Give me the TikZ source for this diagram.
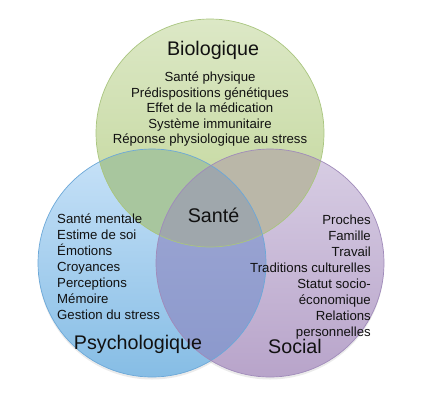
\documentclass[tikz,border=0pt]{standalone}
\usepackage{fontspec}
\setmainfont{Liberation Sans}
\definecolor{gtop}{HTML}{DCE8C6}
\definecolor{gbot}{HTML}{C0D597}
\definecolor{btop}{HTML}{C8E2F8}
\definecolor{bbot}{HTML}{86BDE5}
\definecolor{ptop}{HTML}{D8CEE4}
\definecolor{pbot}{HTML}{B8A4CA}
\definecolor{gb}{HTML}{A8C69E}
\definecolor{gp}{HTML}{BAB7A8}
\definecolor{bptop}{HTML}{A0A8D4}
\definecolor{bpbot}{HTML}{8A98CC}
\definecolor{gbp}{HTML}{9FA7AC}
\definecolor{gline}{HTML}{A9C57F}
\definecolor{bline}{HTML}{6CA8D8}
\definecolor{pline}{HTML}{A08BBA}
\definecolor{txt}{HTML}{111111}
\tikzset{
  title/.style={inner sep=0pt, text=txt, font=\fontsize{19.7}{22}\selectfont},
  items/.style={inner sep=0pt, text=txt, font=\fontsize{13.2}{16}\selectfont},
  rim/.style={line width=0.7pt}
}
\begin{document}
\begin{tikzpicture}[x=1pt,y=-1pt]
\useasboundingbox (0,0) rectangle (435,402);
\def\R{114}
\coordinate (G) at (210,133);
\coordinate (B) at (152,263);
\coordinate (P) at (270,263);
% shadows
\fill[black,opacity=0.08] ([yshift=-2.5pt]B) circle (\R);
\fill[black,opacity=0.08] ([yshift=-2.5pt]P) circle (\R);
% base circles
\shade[top color=btop,bottom color=bbot] (B) circle (\R);
\shade[top color=ptop,bottom color=pbot] (P) circle (\R);
\shade[top color=gtop,bottom color=gbot] (G) circle (\R);
% overlaps
\begin{scope}
  \clip (G) circle (\R);
  \fill[gb] (B) circle (\R);
  \fill[gp] (P) circle (\R);
\end{scope}
\begin{scope}
  \clip (B) circle (\R);
  \shade[top color=bptop,bottom color=bpbot] (P) circle (\R);
  \clip (G) circle (\R);
  \fill[gbp] (P) circle (\R);
\end{scope}
% rims
\draw[rim,gline] (G) circle (\R);
\draw[rim,bline] (B) circle (\R);
\draw[rim,pline] (P) circle (\R);
% texts
\node[title] (tbio) at (213,50) {Biologique};
\node[items,align=center,font=\fontsize{13.2}{15.5}\selectfont] (ibio) at (210,109.5)
  {Santé physique\\Prédispositions génétiques\\Effet de la médication\\Système immunitaire\\Réponse physiologique au stress};
\node[title] (tsante) at (213.5,215) {Santé};
\node[items,align=left,anchor=west] (ipsy) at (57,266.5)
  {Santé mentale\\Estime de soi\\Émotions\\Croyances\\Perceptions\\Mémoire\\Gestion du stress};
\node[title] (tpsy) at (138,344) {Psychologique};
\node[items,align=right,anchor=east] (isoc) at (371,277.5)
  {Proches\\Famille\\Travail\\Traditions culturelles\\Statut socio-\\économique\\Relations\\personnelles};
\node[title] (tsoc) at (295,346) {Social};
\end{tikzpicture}
\end{document}
